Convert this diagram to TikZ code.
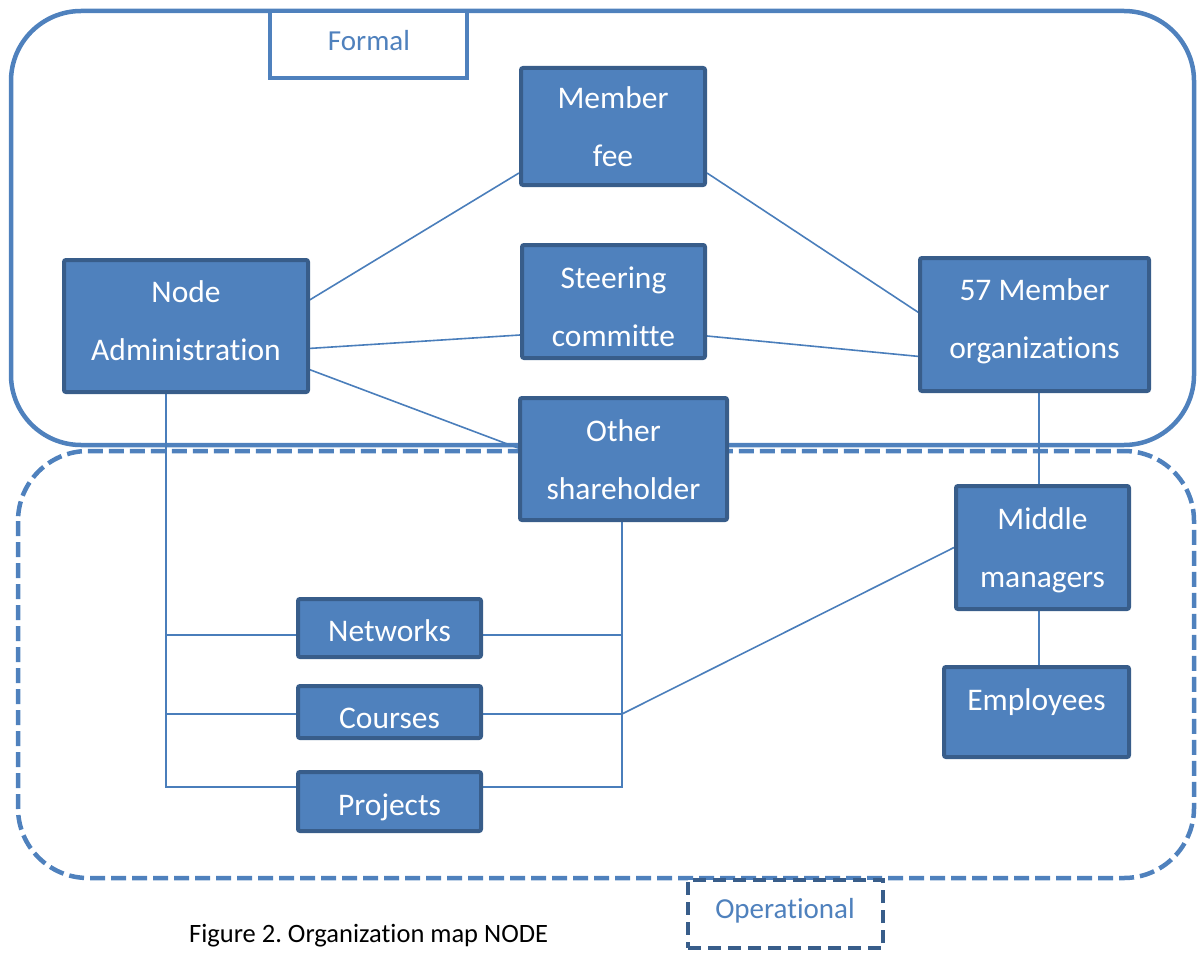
\documentclass[tikz,border=0pt]{standalone}
\usepackage{fontspec}
\setmainfont{Carlito}[Ligatures=CommonOff]
\usetikzlibrary{calc}
\definecolor{ofblue}{HTML}{4F81BD}
\definecolor{ofdark}{HTML}{385D8A}
\definecolor{ofline}{HTML}{4A7EBB}
\pgfdeclarelayer{back}
\pgfdeclarelayer{mid}
\pgfsetlayers{back,mid,main}
\frenchspacing
\begin{document}
\begin{tikzpicture}[x=1pt,y=-1pt,
  unit/.style={draw=ofdark, fill=ofblue, line width=4pt, rounded corners=2pt,
    text=white, align=center, inner sep=0pt,
    font=\fontsize{31.5}{58}\selectfont},
  % struts above and below the last baseline fix where the text sits in its box
  lift/.style 2 args={execute at begin node={\rule{0pt}{#1pt}},
    execute at end node={\rule[-#2pt]{0pt}{#2pt}}},
  link/.style={draw=ofline, line width=1.6pt},
  region/.style={draw=ofblue, line width=4.5pt, rounded corners=70pt},
  tag/.style={fill=white, line width=4pt, text=ofblue, inner sep=0pt,
    font=\fontsize{29}{34}\selectfont}
]
\useasboundingbox (0,0) rectangle (1198,952);

% organisational units
\node[unit, lift={91}{10}, minimum width=184pt, minimum height=117pt] (fee)    at (613,126.5)  {Member\\fee};
\node[unit, lift={99}{10}, minimum width=183pt, minimum height=113pt] (steer)  at (613.5,301.5){Steering\\committe};
\node[unit, lift={82}{14}, minimum width=244pt, minimum height=132pt] (admin)  at (186,326)    {Node\\Administration};
\node[unit, lift={81}{14}, minimum width=229pt, minimum height=133pt] (orgs)   at (1034.5,324.5){57 Member\\organizations};
\node[unit, lift={90}{10}, minimum width=207pt, minimum height=122pt] (share)  at (623.5,459)  {Other\\shareholder};
\node[unit, lift={89}{10}, minimum width=173pt, minimum height=123pt] (middle) at (1042.5,547.5){Middle\\managers};
\node[unit, lift={26}{30}, minimum width=185pt, minimum height=90pt]  (emp)    at (1036.5,712) {Employees};
\node[unit, lift={36}{10}, minimum width=183pt, minimum height=58pt]  (net)    at (389.5,628)  {Networks};
\node[unit, lift={41}{9},  minimum width=183pt, minimum height=52pt]  (crs)    at (389.5,712)  {Courses};
\node[unit, lift={37}{10}, minimum width=183pt, minimum height=59pt]  (prj)    at (389.5,801.5){Projects};

% frames of the two spheres and their titles
\begin{pgfonlayer}{back}
  \draw[region] (11,11) rectangle (1194,445);
  \draw[region, dash pattern=on 15pt off 6pt] (18,451) rectangle (1194,878);
  \node[tag, draw=ofblue, minimum width=197pt, minimum height=67pt] (formal) at (368.5,44.5) {};
  \node[text=ofblue, font=\fontsize{29}{34}\selectfont] (formaltxt) at (369,41) {Formal};
  \node[tag, draw=ofdark, dash pattern=on 13pt off 7pt, minimum width=195pt, minimum height=68pt] (oper) at (785.5,914) {};
  \node[text=ofblue, font=\fontsize{29}{34}\selectfont] (opertxt) at (785,911) {Operational};
\end{pgfonlayer}

% caption
\node[anchor=base west, font=\fontsize{26.5}{30}\selectfont, inner sep=0pt] (caption) at (189,942) {Figure 2. Organization map NODE};

% connectors
\coordinate (admfoot) at ($(admin.south)+(-20,0)$);
\coordinate (shrfoot) at ($(share.south)+(-1.5,0)$);
\coordinate (netL) at ($(net.west)+(0,7)$);
\coordinate (netR) at ($(net.east)+(0,7)$);
\coordinate (crsL) at ($(crs.west)+(0,2)$);
\coordinate (crsR) at ($(crs.east)+(0,2)$);
\coordinate (prjL) at ($(prj.west)+(0,-14.5)$);
\coordinate (prjR) at ($(prj.east)+(0,-14.5)$);
\begin{pgfonlayer}{mid}
  \draw[link] ($(fee.west)+(0,46.5)$) -- ($(admin.center)+(84,-2)$);
  \draw[link] ($(fee.east)+(0,46.5)$) -- ($(orgs.center)+(-89.5,5.5)$);
  \draw[link] ($(steer.west)+(0,33.5)$) -- ($(admin.center)+(99,24)$);
  \draw[link] ($(steer.east)+(0,34.5)$) -- ($(orgs.center)+(-99.5,33.5)$);
  \draw[link] ($(admin.center)+(114,40)$) -- ($(share.west)+(0,-11)$);
  \draw[link] ($(orgs.south)+(4.5,0)$) -- ($(middle.north)+(-3.5,0)$);
  \draw[link] ($(middle.south)+(-3.5,0)$) -- ($(emp.north)+(2.5,0)$);
  \draw[link] (admfoot) |- (prjL);
  \draw[link] (admfoot |- netL) -- (netL);
  \draw[link] (admfoot |- crsL) -- (crsL);
  \draw[link] (shrfoot) |- (prjR);
  \draw[link] (netR) -- (shrfoot |- netR);
  \draw[link] (crsR) -- (shrfoot |- crsR);
  \draw[link] (middle.west) -- (shrfoot |- crsR);
\end{pgfonlayer}
\end{tikzpicture}
\end{document}
